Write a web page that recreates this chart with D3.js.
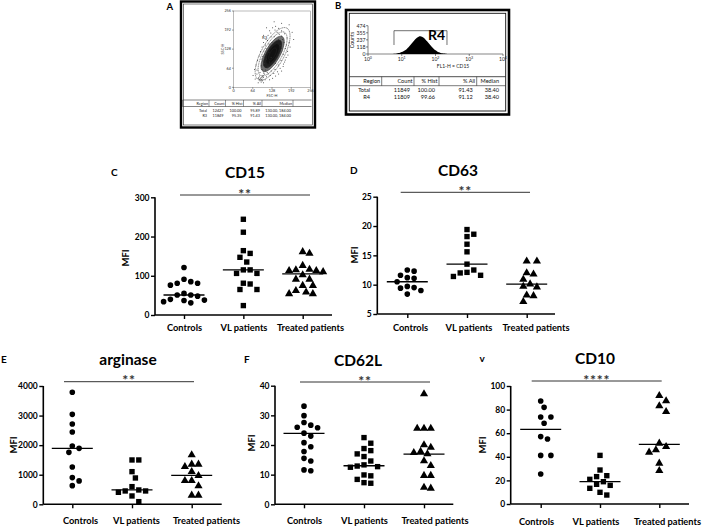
<!DOCTYPE html>
<html><head><meta charset="utf-8">
<script src="https://cdn.jsdelivr.net/npm/d3@7"></script>
<style>
body{margin:0;background:#fff}
svg{display:block}
text{font-family:Lato,"Liberation Sans",sans-serif}
</style></head>
<body><svg id="c" width="708" height="530"></svg>
<script>
// ---------- DATA ----------
const groups = ["Controls", "VL patients", "Treated patients"];

const C_ticks = [0, 100, 200, 300];
const C_ctrl = [121, 91, 81, 76, 81, 85, 51, 51, 55, 48, 40, 37, 31, 34, 38];
const C_vl = [244, 211, 157, 147, 164, 135, 115, 106, 106, 115, 81, 79, 65, 65, 24];
const C_tr = [157, 161, 126, 113, 110, 113, 116, 115, 102, 91, 91, 75, 75, 62, 54, 54, 58];
const C_med = [51, 115, 105];

const D_ticks = [5, 10, 15, 20, 25];
const D_ctrl = [12.5, 12.3, 11.2, 11.6, 11.1, 10.5, 9.4, 9.7, 9.5, 8.4, 9.0];
const D_vl = [19.4, 18.2, 18.6, 16.9, 15.6, 13.5, 12.5, 12.0, 12.1, 11.4, 11.6];
const D_tr = [14.0, 14.0, 12.0, 11.8, 10.9, 9.7, 9.6, 10.1, 8.2, 8.1, 7.1];
const D_med = [10.5, 13.5, 10.1];

const E_ticks = [0, 1000, 2000, 3000, 4000];
const E_ctrl = [3787, 3043, 2716, 2446, 1893, 1972, 1758, 1262, 902, 790, 631];
const E_vl = [1499, 1499, 1104, 890, 485, 406, 451, 451, 597, 282, 90];
const E_tr = [1668, 1352, 1273, 1352, 1104, 969, 800, 800, 620, 304, 304];
const E_med = [1893, 485, 980];

const F_ticks = [0, 10, 20, 30, 40];
const F_ctrl = [33.1, 29.9, 27.6, 26.7, 26.0, 25.8, 24.0, 23.0, 20.8, 19.4, 17.8, 15.5, 14.6, 11.6, 11.3];
const F_vl = [22.5, 20.6, 18.8, 18.1, 17.0, 16.1, 14.6, 13.3, 12.9, 12.5, 12.7, 9.9, 9.6, 7.3, 7.1, 8.4];
const F_tr = [37.2, 25.6, 25.6, 25.6, 20.0, 19.2, 17.4, 17.0, 17.8, 14.6, 13.0, 9.7, 9.7, 5.4, 5.7];
const F_med = [23.9, 13.0, 16.9];

const V_ticks = [0, 20, 40, 60, 80, 100];
const V_ctrl = [87.3, 81.9, 73.7, 73.7, 68.4, 55.1, 57.1, 41.2, 41.2, 25.4];
const V_vl = [41.2, 28.8, 20.9, 23.2, 24.0, 18.9, 13.3, 16.7, 15.8, 9.9, 7.6];
const V_tr = [91.8, 87.3, 83.1, 78.2, 51.4, 45.8, 43.8, 48.6, 34.5, 28.2];
const V_med = [63.3, 18.9, 50.6];

// Panel A (FSC-H vs SSC-H)
const A_ticks = [0, 64, 128, 192, 256];
const A_events = [[70,60],[78,45],[82,30],[88,22],[92,18],[95,28],[86,38],[100,15],[105,25],[98,40],[75,75],[80,90],[85,105],[90,120],[95,135],[100,150],[108,160],[115,175],[120,190],[130,200],[140,205],[150,198],[160,190],[170,180],[178,165],[185,150],[188,135],[180,120],[175,100],[170,85],[165,70],[160,55],[150,45],[140,38],[130,30],[120,25],[110,35],[112,50],[95,60],[102,80],[92,95],[110,95],[108,130],[118,145],[125,170],[145,185],[160,172],[168,150],[172,130],[165,110],[158,90],[150,75],[138,60],[125,55],[115,70],[88,50],[78,58],[200,160],[195,185],[185,210],[160,215],[135,220],[110,200],[100,175],[65,40],[72,28],[150,160],[155,140],[140,80],[120,85],[105,110],[128,150],[135,170],[145,95],[125,100],[160,130],[100,48],[92,72],[118,118],[82,15],[90,28],[94,34],[86,26],[96,22],[84,32],[99,33],[89,31],[93,25],[97,37],[103,45],[106,58],[112,66],[104,70],[98,88],[96,104],[101,122],[106,142],[113,157],[124,182],[138,192],[152,178],[163,160],[176,142],[181,108],[172,92],[166,78],[155,64],[146,52],[134,46],[122,40],[115,45]];
// contour levels: [semi-major, semi-minor, darkness] (data units)
const A_contours = [[98,38,0],[82,31,0],[66,25,0.6],[52,20,0.85],[38,15,1],[22,9,1]];
const A_center = [130, 112];
const A_headers = ["Region", "Count", "% Hist", "% All", "Median"];
const A_rows = [["Total", "12427", "100.00", "95.89", "130.00, 184.00"],
                ["R3", "11849", "95.35", "91.43", "130.00, 184.00"]];

// Panel B (CD15 histogram)
const B_yticks = [0, 118, 237, 355, 474];
const B_decades = [0, 1, 2, 3, 4];
const B_logs = [0.75,0.80,0.85,0.90,0.95,1.00,1.05,1.10,1.15,1.20,1.25,1.30,1.35,1.40,1.45,1.50,1.55,1.60,1.65,1.70,1.75,1.80,1.85,1.90,1.95,2.00,2.05,2.10,2.15,2.20,2.25,2.30,2.35];
const B_counts = [2,5,9,15,22,32,45,62,85,112,145,180,215,250,275,292,298,290,272,245,212,178,145,112,84,60,42,28,18,11,6,3,0];
const B_gate = [0.77, 2.34];
const B_headers = ["Region", "Count", "% Hist", "% All", "Median"];
const B_rows = [["Total", "11849", "100.00", "91.43", "38.40"],
                ["R4", "11809", "99.66", "91.12", "38.40"]];

// ---------- DRAW ----------
const svg = d3.select("#c");

// ===== Panel A =====
(function () {
  const g = svg.append("g");
  g.append("text").attr("x", 166.5).attr("y", 10).attr("font-size", 9.5).attr("font-weight", 700).text("A");
  g.append("rect").attr("x", 181).attr("y", 1.5).attr("width", 134).attr("height", 126)
    .attr("fill", "none").attr("stroke", "#000").attr("stroke-width", 2.4);
  g.append("rect").attr("x", 183.5).attr("y", 4).attr("width", 129).attr("height", 121)
    .attr("fill", "none").attr("stroke", "#222").attr("stroke-width", 0.6);
  const x = d3.scaleLinear([0, 256], [233.5, 310.5]);
  const y = d3.scaleLinear([0, 256], [87.3, 11]);
  g.append("rect").attr("x", x(0)).attr("y", y(256)).attr("width", x(256) - x(0)).attr("height", y(0) - y(256))
    .attr("fill", "none").attr("stroke", "#777").attr("stroke-width", 0.5);
  const fs = 3.8;
  A_ticks.forEach(t => {
    g.append("line").attr("x1", x(t)).attr("x2", x(t)).attr("y1", y(0)).attr("y2", y(0) + 1.5).attr("stroke", "#333").attr("stroke-width", 0.5);
    g.append("text").attr("x", x(t)).attr("y", y(0) + 5).attr("font-size", fs).attr("text-anchor", "middle").attr("fill", "#333").text(t);
    g.append("line").attr("x1", x(0) - 1.5).attr("x2", x(0)).attr("y1", y(t)).attr("y2", y(t)).attr("stroke", "#333").attr("stroke-width", 0.5);
    g.append("text").attr("x", x(0) - 2.5).attr("y", y(t) + 1.3).attr("font-size", fs).attr("text-anchor", "end").attr("fill", "#333").text(t);
  });
  g.append("text").attr("x", 272).attr("y", 96.5).attr("font-size", fs).attr("text-anchor", "middle").attr("fill", "#333").text("FSC-H");
  g.append("text").attr("transform", "translate(224,49) rotate(-90)").attr("font-size", fs).attr("text-anchor", "middle").attr("fill", "#333").text("SSC-H");
  const [cx, cy] = A_center;
  const pxPerUnit = (x(256) - x(0)) / 256;
  const ang = -61;
  A_contours.forEach(c => {
    g.append("ellipse").attr("cx", x(cx)).attr("cy", y(cy))
      .attr("rx", c[0] * pxPerUnit).attr("ry", c[1] * pxPerUnit)
      .attr("transform", `rotate(${ang},${x(cx)},${y(cy)})`)
      .attr("fill", c[2] > 0 ? "#111" : "none").attr("fill-opacity", c[2])
      .attr("stroke", "#222").attr("stroke-width", 0.5).attr("stroke-dasharray", c[2] > 0 ? null : "1.2,0.6");
  });
  g.selectAll("circle.ev").data(A_events).join("circle").attr("class", "ev")
    .attr("cx", d => x(d[0])).attr("cy", d => y(d[1])).attr("r", 0.5).attr("fill", "#333");
  g.append("text").attr("x", 262).attr("y", 38.5).attr("font-size", 4.3).attr("fill", "#222").text("R3");
  // table
  const tx0 = 182.5, tx1 = 311.5, ty0 = 100, ty1 = 106.5;
  const colR = [209, 225.5, 243.5, 262, 293];
  g.append("line").attr("x1", tx0).attr("x2", tx1).attr("y1", ty0).attr("y2", ty0).attr("stroke", "#333").attr("stroke-width", 0.6);
  g.append("line").attr("x1", tx0).attr("x2", tx1).attr("y1", ty1).attr("y2", ty1).attr("stroke", "#333").attr("stroke-width", 0.6);
  [tx0, ...colR].forEach(cxl => g.append("line").attr("x1", cxl).attr("x2", cxl).attr("y1", ty0).attr("y2", ty1).attr("stroke", "#333").attr("stroke-width", 0.5));
  A_headers.forEach((h, i) => g.append("text").attr("x", colR[i] - 1).attr("y", 105).attr("font-size", 3.8).attr("text-anchor", "end").attr("fill", "#222").text(h));
  A_rows.forEach((r, j) => r.forEach((v, i) => g.append("text").attr("x", colR[i] - 2).attr("y", 111.5 + j * 5)
    .attr("font-size", 3.8).attr("text-anchor", "end").attr("fill", "#222").text(v)));
})();

// ===== Panel B =====
(function () {
  const g = svg.append("g");
  g.append("text").attr("x", 335).attr("y", 8.5).attr("font-size", 9.5).attr("font-weight", 700).text("B");
  g.append("rect").attr("x", 346).attr("y", 10).attr("width", 163).attr("height", 104.5)
    .attr("fill", "none").attr("stroke", "#000").attr("stroke-width", 2.6);
  g.append("rect").attr("x", 349.3).attr("y", 13.3).attr("width", 156.4).attr("height", 97.7)
    .attr("fill", "none").attr("stroke", "#111").attr("stroke-width", 0.9);
  const x = d3.scaleLinear([0, 4], [368, 503]);
  const y = d3.scaleLinear([0, 474], [54, 25.7]);
  g.append("line").attr("x1", x(0)).attr("x2", x(0)).attr("y1", y(0)).attr("y2", y(474)).attr("stroke", "#333").attr("stroke-width", 0.6);
  g.append("line").attr("x1", x(0)).attr("x2", x(4)).attr("y1", y(0)).attr("y2", y(0)).attr("stroke", "#333").attr("stroke-width", 0.6);
  B_yticks.forEach(t => {
    g.append("line").attr("x1", x(0) - 2).attr("x2", x(0)).attr("y1", y(t)).attr("y2", y(t)).attr("stroke", "#333").attr("stroke-width", 0.6);
    g.append("text").attr("x", x(0) - 2.5).attr("y", y(t) + 1.8).attr("font-size", 5.2).attr("text-anchor", "end").attr("fill", "#222").text(t);
  });
  B_decades.forEach(dd => {
    g.append("line").attr("x1", x(dd)).attr("x2", x(dd)).attr("y1", y(0)).attr("y2", y(0) + 2).attr("stroke", "#333").attr("stroke-width", 0.6);
    const t = g.append("text").attr("x", x(dd)).attr("y", y(0) + 7).attr("font-size", 5).attr("text-anchor", "middle").attr("fill", "#222");
    t.append("tspan").text("10");
    t.append("tspan").attr("font-size", 3.6).attr("dy", -2).text(dd);
  });
  g.append("text").attr("x", 453).attr("y", 67.5).attr("font-size", 5).attr("text-anchor", "middle").attr("fill", "#222").text("FL1-H = CD15");
  g.append("text").attr("transform", "translate(354,40) rotate(-90)").attr("font-size", 5.3).attr("text-anchor", "middle").attr("fill", "#222").text("Counts");
  const hist = B_logs.map((l, i) => [l, B_counts[i]]);
  g.append("path").datum(hist)
    .attr("d", d3.area().x(d => x(d[0])).y0(y(0)).y1(d => y(d[1])).curve(d3.curveBasis))
    .attr("fill", "#000");
  const gx0 = x(B_gate[0]), gx1 = x(B_gate[1]);
  g.append("path").attr("d", `M${gx0},45 V30.7 H${gx1} V45`).attr("fill", "none").attr("stroke", "#333").attr("stroke-width", 0.7);
  g.append("text").attr("x", 428).attr("y", 39.5).attr("font-size", 14).attr("font-weight", 700).text("R4");
  // table
  const tx0 = 349.3, tx1 = 505.7, ty0 = 76.7, ty1 = 85.7;
  const colR = [381.7, 414, 439, 476.7, 505.7];
  g.append("line").attr("x1", tx0).attr("x2", tx1).attr("y1", ty0).attr("y2", ty0).attr("stroke", "#222").attr("stroke-width", 0.8);
  g.append("line").attr("x1", tx0).attr("x2", tx1).attr("y1", ty1).attr("y2", ty1).attr("stroke", "#222").attr("stroke-width", 0.6);
  colR.slice(0, 4).forEach(cxl => g.append("line").attr("x1", cxl).attr("x2", cxl).attr("y1", ty0).attr("y2", ty1).attr("stroke", "#222").attr("stroke-width", 0.6));
  B_headers.forEach((h, i) => g.append("text").attr("x", i < 4 ? colR[i] - 1.5 : 499).attr("y", 83.3).attr("font-size", 5.6).attr("text-anchor", "end").attr("fill", "#111").text(h));
  B_rows.forEach((r, j) => r.forEach((v, i) => g.append("text").attr("x", i === 0 ? 370 : (i < 4 ? colR[i] - 4 : 499)).attr("y", 92 + j * 7.4)
    .attr("font-size", 5.6).attr("text-anchor", "end").attr("fill", "#111").text(v)));
})();

// ===== Dot plots =====
const layout = [
  { letter: "C", title: "CD15", data: [C_ctrl, C_vl, C_tr], med: C_med, ticks: C_ticks, stars: "**",
    ax: 155, xEnd: 332, yBot: 315, yTop: 197.3, cats: [184, 243.3, 302.7], labX: [184, 243.5, 310], sig: [180, 310, 195],
    tx: 245, ty: 177.5, lx: 111, ly: 176, mfi: [126, 258], catY: 331 },
  { letter: "D", title: "CD63", data: [D_ctrl, D_vl, D_tr], med: D_med, ticks: D_ticks, stars: "**",
    ax: 377.3, xEnd: 555, yBot: 314, yTop: 196.7, cats: [407.3, 466.7, 526.7], labX: [410, 468.5, 535.5], sig: [400.7, 530, 192.3],
    tx: 458, ty: 176, lx: 350, ly: 174, mfi: [354.5, 255], catY: 331 },
  { letter: "E", title: "arginase", data: [E_ctrl, E_vl, E_tr], med: E_med, ticks: E_ticks, stars: "**",
    ax: 43.3, xEnd: 221.7, yBot: 504.3, yTop: 386, cats: [72.3, 131.7, 191.7], labX: [80, 136, 206], sig: [64, 194, 381.7],
    tx: 128, ty: 365, lx: 1, ly: 362.5, mfi: [13.3, 445], catY: 524.5 },
  { letter: "F", title: "CD62L", data: [F_ctrl, F_vl, F_tr], med: F_med, ticks: F_ticks, stars: "**",
    ax: 275, xEnd: 453.3, yBot: 504.3, yTop: 385.7, cats: [304, 364, 424], labX: [304, 364, 434.5], sig: [300, 430, 382],
    tx: 358, ty: 366, lx: 244, ly: 362.7, mfi: [252, 443], catY: 524.5 },
  { letter: "v", title: "CD10", data: [V_ctrl, V_vl, V_tr], med: V_med, ticks: V_ticks, stars: "****",
    ax: 510.7, xEnd: 689, yBot: 504, yTop: 386, cats: [540.7, 600, 659.3], labX: [536, 595.5, 667], sig: [531.7, 661.7, 381],
    tx: 595, ty: 364, lx: 479.5, ly: 361.7, mfi: [483, 445], catY: 524.5 }
];

const symbols = [d3.symbolCircle, d3.symbolSquare, d3.symbolTriangle];
const symSize = [25, 29, 29];

function beeswarm(vals, y, cx, d) {
  const order = vals.map((v, i) => i).sort((a, b) => vals[b] - vals[a]);
  const placed = [], out = new Array(vals.length);
  order.forEach(i => {
    const py = y(vals[i]);
    let px = cx;
    for (let k = 0; k < 60; k++) {
      const off = (k % 2 === 1 ? 1 : -1) * Math.ceil(k / 2) * (d / 2);
      const cand = cx + off;
      if (placed.every(p => (p[0] - cand) ** 2 + (p[1] - py) ** 2 >= d * d)) { px = cand; break; }
    }
    placed.push([px, py]);
    out[i] = [px, py];
  });
  return out;
}

layout.forEach(p => {
  const g = svg.append("g");
  const dom = [p.ticks[0], p.ticks[p.ticks.length - 1]];
  const y = d3.scaleLinear(dom, [p.yBot, p.yTop]);
  const x = d3.scalePoint(groups, [p.cats[0], p.cats[2]]);
  g.append("text").attr("x", p.lx).attr("y", p.ly).attr("font-size", 10).attr("font-weight", 700).text(p.letter);
  g.append("text").attr("x", p.tx).attr("y", p.ty).attr("font-size", 15.5).attr("font-weight", 700).attr("text-anchor", "middle").text(p.title);
  // y axis
  const ya = g.append("g").attr("transform", `translate(${p.ax},0)`)
    .call(d3.axisLeft(y).tickValues(p.ticks).tickSize(4).tickPadding(1.5).tickFormat(d3.format("d")));
  ya.select(".domain").attr("stroke-width", 1.6).attr("d", `M0,${p.yTop}V${p.yBot}`);
  ya.selectAll(".tick line").attr("stroke-width", 1.4);
  ya.selectAll(".tick text").attr("font-family", "Lato").attr("font-size", 8.5).attr("font-weight", 700).attr("fill", "#000");
  // x axis
  const xa = g.append("g").attr("transform", `translate(0,${p.yBot})`)
    .call(d3.axisBottom(x).tickSize(4).tickPadding(8));
  xa.select(".domain").attr("stroke-width", 1.6).attr("d", `M${p.ax},0H${p.xEnd}`);
  xa.selectAll(".tick line").attr("stroke-width", 1.4);
  xa.selectAll(".tick text").attr("font-family", "Lato").attr("font-size", 9.3).attr("font-weight", 700).attr("fill", "#000")
    .attr("x", (d, i) => p.labX[i] - x(d)).attr("y", p.catY - p.yBot).attr("dy", 0);
  // MFI
  g.append("text").attr("transform", `translate(${p.mfi[0] + 3.3},${p.mfi[1]}) rotate(-90)`)
    .attr("font-size", 9.5).attr("font-weight", 700).attr("text-anchor", "middle").text("MFI");
  // significance
  g.append("line").attr("x1", p.sig[0]).attr("x2", p.sig[1]).attr("y1", p.sig[2]).attr("y2", p.sig[2]).attr("stroke", "#333").attr("stroke-width", 1);
  g.append("text").attr("x", (p.sig[0] + p.sig[1]) / 2).attr("y", p.sig[2] + 3.5).attr("font-size", 14).attr("font-weight", 700)
    .attr("text-anchor", "middle").attr("fill", "#333").attr("letter-spacing", 0.8).text(p.stars);
  // points
  p.data.forEach((vals, gi) => {
    const cx = x(groups[gi]);
    const pos = beeswarm(vals, y, cx, 6.8);
    g.selectAll(null).data(pos).join("path")
      .attr("d", d3.symbol(symbols[gi], symSize[gi]))
      .attr("transform", d => `translate(${d[0]},${d[1]})`)
      .attr("fill", "#000");
    g.append("line").attr("x1", cx - 20.5).attr("x2", cx + 20.5).attr("y1", y(p.med[gi])).attr("y2", y(p.med[gi]))
      .attr("stroke", "#000").attr("stroke-width", 1.3);
  });
});
</script></body></html>
